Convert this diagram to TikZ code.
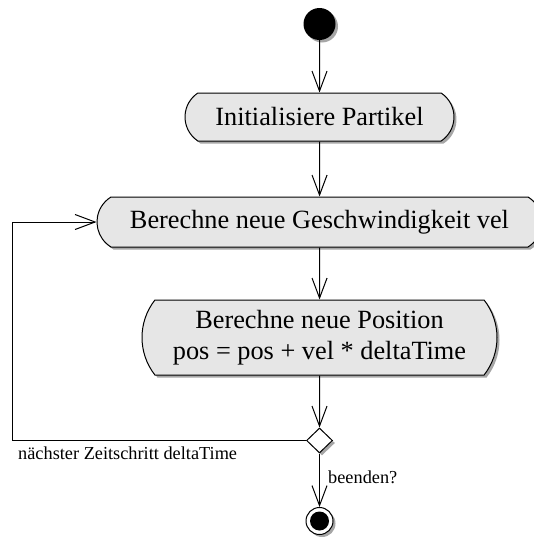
\documentclass[tikz,border=0pt]{standalone}
\usepackage{fontspec}
\setmainfont{Liberation Serif}
\usetikzlibrary{shapes.misc,shapes.geometric,arrows.meta,shadows}
\definecolor{actfill}{RGB}{230,230,230}
\tikzset{
  shad/.style={drop shadow={shadow xshift=2.5pt,shadow yshift=-2.5pt,fill=black,opacity=0.35}},
  action/.style={rounded rectangle, draw=black, line width=1pt, fill=actfill, shad,
    inner sep=0pt, font=\fontsize{26.3}{31.5}\selectfont, align=center},
  arr/.style={line width=1pt, -{Straight Barb[length=20pt,width=15pt,line width=1pt]}},
  conn/.style={line width=1pt},
  lbl/.style={font=\fontsize{18.3}{22}\selectfont, inner sep=0pt}
}
\begin{document}
\begin{tikzpicture}[x=1pt,y=-1pt]
\useasboundingbox (0,0) rectangle (534,541);
\node[circle, fill=black, minimum size=32pt, inner sep=0pt, shad] (start) at (319.5,24) {};
\node[action, minimum width=269pt, minimum height=48pt, rounded rectangle arc length=113] (a1) at (319.5,117) {Initialisiere Partikel};
\node[action, minimum width=445pt, minimum height=50pt, rounded rectangle arc length=117] (a2) at (319.5,222) {Berechne neue Geschwindigkeit vel};
\node[action, minimum width=355pt, minimum height=75pt, rounded rectangle arc length=76] (a3) at (319.5,337.5) {Berechne neue Position\\pos = pos + vel * deltaTime};
\node[diamond, draw=black, line width=1pt, fill=white, minimum width=26pt, minimum height=25pt, inner sep=0pt, shad] (dec) at (319.5,440.5) {};
\node[circle, draw=black, line width=1pt, fill=white, minimum size=27pt, inner sep=0pt, shad] (end) at (319.5,521) {};
\node[circle, fill=black, minimum size=19pt, inner sep=0pt] (endin) at (end.center) {};
\coordinate (c1) at (12,440.5);
\draw[arr] (start) -- (a1);
\draw[arr] (a1) -- (a2);
\draw[arr] (a2) -- (a3);
\draw[arr] (a3) -- (dec);
\draw[arr] (dec.west) -- (c1) |- (a2.west);
\draw[arr] (dec) -- (end);
\node[lbl, anchor=base west] (l1) at (18,459.3) {nächster Zeitschritt deltaTime};
\node[lbl, anchor=base west] (l2) at (328,483.3) {beenden?};
\end{tikzpicture}
\end{document}
